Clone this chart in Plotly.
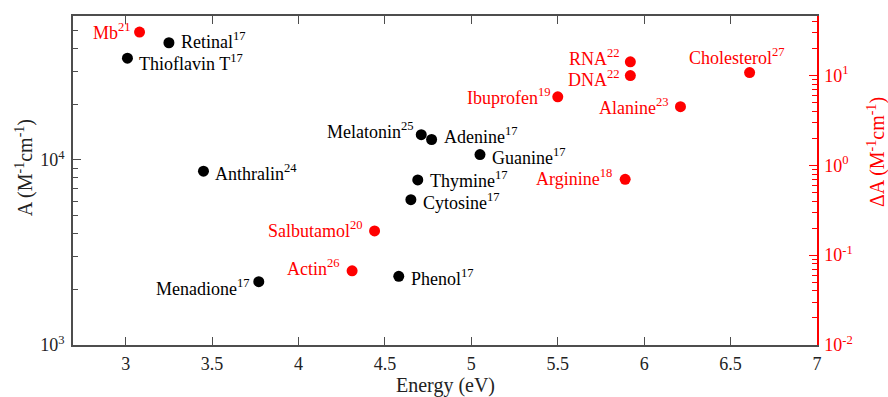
import math
import plotly.graph_objects as go

# Molecules measured on the absorbance scale A (left axis)
black_names = ["Retinal", "Thioflavin T", "Anthralin", "Menadione", "Melatonin",
               "Adenine", "Guanine", "Thymine", "Cytosine", "Phenol"]
black_refs = [17, 17, 24, 17, 25, 17, 17, 17, 17, 17]
black_energy = [3.25, 3.01, 3.45, 3.77, 4.71, 4.77, 5.05, 4.69, 4.65, 4.58]
black_A = [4.3e4, 3.55e4, 8.7e3, 2.2e3, 1.37e4, 1.29e4, 1.07e4, 7.8e3, 6.1e3, 2.35e3]

# Molecules measured on the differential scale dA (right axis)
red_names = ["Mb", "Ibuprofen", "RNA", "DNA", "Cholesterol", "Alanine",
             "Arginine", "Salbutamol", "Actin"]
red_refs = [21, 19, 22, 22, 27, 23, 18, 20, 26]
red_energy = [3.08, 5.50, 5.92, 5.92, 6.61, 6.21, 5.89, 4.44, 4.31]
red_dA = [30.5, 5.8, 14.2, 10.0, 10.8, 4.5, 0.70, 0.186, 0.067]

left_tickvals = [1e3, 1e4]
left_ticktext = ["10<sup>3</sup>", "10<sup>4</sup>"]
right_tickvals = [1e-2, 1e-1, 1e0, 1e1]
right_ticktext = ["10<sup>-2</sup>", "10<sup>-1</sup>", "10<sup>0</sup>", "10<sup>1</sup>"]

# label placement: (xanchor, xshift, yshift) in pixels
label_pos = {
    "Retinal": ("left", 10, 2), "Thioflavin T": ("left", 10, -4),
    "Anthralin": ("left", 10, -1), "Menadione": ("right", -7, -6),
    "Melatonin": ("right", -5, 4), "Adenine": ("left", 10, 4),
    "Guanine": ("left", 10, -2), "Thymine": ("left", 10, 0),
    "Cytosine": ("left", 10, -2), "Phenol": ("left", 10, -1),
    "Mb": ("right", -7, 1), "Ibuprofen": ("right", -5, 0),
    "RNA": ("right", -8, 4), "DNA": ("right", -8, -3),
    "Cholesterol": ("center", -13, 16), "Alanine": ("right", -9, 0),
    "Arginine": ("right", -11, 2), "Salbutamol": ("right", -10, 1),
    "Actin": ("right", -10, 3),
}

RED = "#ff0000"
AXIS = "#4d4d4d"
FONT = "'Liberation Serif', 'Times New Roman', serif"

fig = go.Figure()
fig.add_trace(go.Scatter(x=black_energy, y=black_A, mode="markers",
                         marker=dict(color="black", size=11), yaxis="y",
                         showlegend=False, hoverinfo="skip"))
fig.add_trace(go.Scatter(x=red_energy, y=red_dA, mode="markers",
                         marker=dict(color=RED, size=11), yaxis="y2",
                         showlegend=False, hoverinfo="skip"))

annotations = []
for names, refs, xs, ys, yref, color in [
        (black_names, black_refs, black_energy, black_A, "y", "black"),
        (red_names, red_refs, red_energy, red_dA, "y2", RED)]:
    for n, r, x, y in zip(names, refs, xs, ys):
        anchor, dx, dy = label_pos[n]
        # annotation positions on log axes are given in log10 units
        annotations.append(dict(
            x=x, y=math.log10(y), xref="x", yref=yref,
            text=f"{n}<sup>{r}</sup>", showarrow=False,
            xanchor=anchor, yanchor="middle", xshift=dx, yshift=dy,
            font=dict(family=FONT, size=18, color=color)))

# axis titles
annotations.append(dict(x=-0.066, y=0.54, xref="paper", yref="paper",
                        text="A (M<sup>-1</sup>cm<sup>-1</sup>)", textangle=-90,
                        showarrow=False, xanchor="center", yanchor="middle",
                        font=dict(family=FONT, size=20, color="#222")))
annotations.append(dict(x=1.08, y=0.585, xref="paper", yref="paper",
                        text="ΔA (M<sup>-1</sup>cm<sup>-1</sup>)", textangle=-90,
                        showarrow=False, xanchor="center", yanchor="middle",
                        font=dict(family=FONT, size=20, color=RED)))
annotations.append(dict(x=0.5, y=-0.123, xref="paper", yref="paper",
                        text="Energy (eV)", showarrow=False,
                        xanchor="center", yanchor="middle",
                        font=dict(family=FONT, size=20, color="#222")))

fig.update_layout(
    width=888, height=397,
    margin=dict(l=73, r=71, t=16, b=52),
    paper_bgcolor="white", plot_bgcolor="white",
    font=dict(family=FONT, size=18, color="#222"),
    annotations=annotations,
    xaxis=dict(
        range=[2.695, 7.0], dtick=0.5, tick0=3, automargin=False,
        showline=True, linecolor=AXIS, linewidth=1.5, mirror="ticks",
        ticks="inside", ticklen=8, tickcolor=AXIS, showgrid=False, zeroline=False,
        ticklabelstandoff=2,
        tickfont=dict(family=FONT, size=18, color="#222"),
    ),
    yaxis=dict(
        type="log", range=[3, 4.778], automargin=False,
        tickmode="array", tickvals=left_tickvals, ticktext=left_ticktext,
        showline=True, linecolor=AXIS, linewidth=1.5,
        ticks="inside", ticklen=8, tickcolor=AXIS, showgrid=False, zeroline=False,
        ticklabelstandoff=3,
        minor=dict(tickmode="linear", dtick="D1", ticks="inside", ticklen=5,
                   tickcolor=AXIS, showgrid=False),
        tickfont=dict(family=FONT, size=18, color="#222"),
    ),
    yaxis2=dict(
        type="log", range=[-2, 1.663], automargin=False,
        tickmode="array", tickvals=right_tickvals, ticktext=right_ticktext,
        overlaying="y", side="right", anchor="x",
        showline=True, linecolor=RED, linewidth=1.5,
        ticks="inside", ticklen=8, tickcolor=RED, showgrid=False, zeroline=False,
        ticklabelstandoff=2,
        minor=dict(tickmode="linear", dtick="D1", ticks="inside", ticklen=5,
                   tickcolor=RED, showgrid=False),
        tickfont=dict(family=FONT, size=18, color=RED),
    ),
)

fig.write_html("out.html")
